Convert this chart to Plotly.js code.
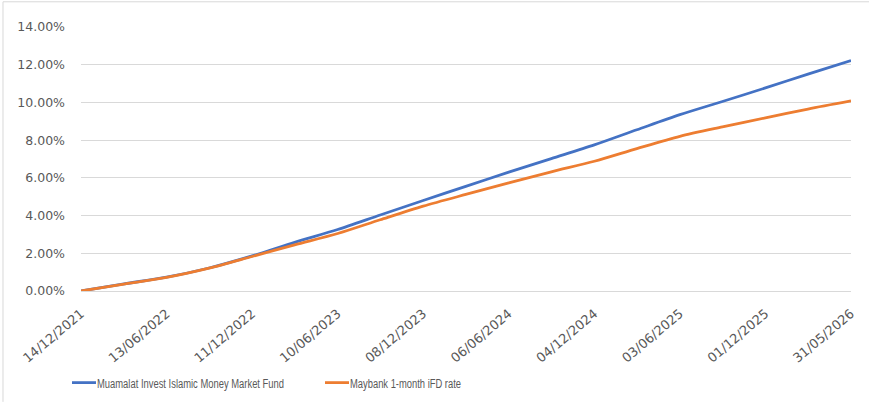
<!DOCTYPE html>
<html>
<head>
<meta charset="utf-8">
<script src="https://cdn.plot.ly/plotly-3.0.1.min.js"></script>
<style>
html,body{margin:0;padding:0;background:#fff;}
#chart{width:869px;height:402px;}
</style>
</head>
<body>
<div id="chart"></div>
<script>
// Dates of the readings (every ~90 days)
const dates = ['2021-12-14','2022-03-15','2022-06-13','2022-09-11','2022-12-11','2023-03-11','2023-06-10','2023-09-08','2023-12-08','2024-03-07','2024-06-06','2024-09-04','2024-12-04','2025-03-04','2025-06-03','2025-09-01','2025-12-01','2026-03-01','2026-05-31'];
// Cumulative return, percent
const fundReturn = [0, 0.38, 0.73, 1.22, 1.86, 2.58, 3.26, 4.03, 4.80, 5.55, 6.30, 7.02, 7.75, 8.55, 9.35, 10.05, 10.77, 11.50, 12.22];
const ifdReturn  = [0, 0.37, 0.72, 1.21, 1.83, 2.45, 3.05, 3.78, 4.50, 5.12, 5.73, 6.32, 6.88, 7.55, 8.20, 8.70, 9.18, 9.65, 10.08];
const seriesNames = ['Muamalat Invest Islamic Money Market Fund', 'Maybank 1-month iFD rate'];
// Axis ticks
const tickDates  = ['2021-12-14','2022-06-13','2022-12-11','2023-06-10','2023-12-08','2024-06-06','2024-12-04','2025-06-03','2025-12-01','2026-05-31'];
const tickLabels = ['14/12/2021','13/06/2022','11/12/2022','10/06/2023','08/12/2023','06/06/2024','04/12/2024','03/06/2025','01/12/2025','31/05/2026'];
const yTicks = [0, 2, 4, 6, 8, 10, 12, 14];
const yTickLabels = ['0.00%','2.00%','4.00%','6.00%','8.00%','10.00%','12.00%','14.00%'];

const grey = '#595959';
const traces = [
  {x: dates, y: fundReturn, name: seriesNames[0], type: 'scatter', mode: 'lines',
   line: {color: '#4472C4', width: 2.8, shape: 'spline', smoothing: 0.8}},
  {x: dates, y: ifdReturn, name: seriesNames[1], type: 'scatter', mode: 'lines',
   line: {color: '#ED7D31', width: 2.8, shape: 'spline', smoothing: 0.8}}
];
const layout = {
  width: 869, height: 402,
  margin: {l: 81, r: 18, t: 27, b: 110.5, pad: 0, autoexpand: false},
  paper_bgcolor: '#fff', plot_bgcolor: '#fff',
  showlegend: true,
  hovermode: false,
  xaxis: {
    type: 'date',
    range: [tickDates[0], tickDates[tickDates.length - 1]],
    tickmode: 'array', tickvals: tickDates, ticktext: tickLabels,
    tickangle: -40,
    ticklabelstandoff: 9,
    showgrid: false, zeroline: false,
    showline: true, linecolor: '#d9d9d9', linewidth: 1,
    ticks: '', ticklen: 0,
    tickfont: {family: 'DejaVu Sans', size: 13, color: grey},
    automargin: false
  },
  yaxis: {
    range: [0, 14],
    tickmode: 'array', tickvals: yTicks, ticktext: yTickLabels,
    showgrid: true, gridcolor: '#d9d9d9', gridwidth: 1,
    zeroline: false, showline: false, ticks: '',
    ticklabelstandoff: 15,
    tickfont: {family: 'DejaVu Sans', size: 12.5, color: grey},
    automargin: false
  },
  legend: {
    orientation: 'h',
    xref: 'container', yref: 'container',
    x: 67 / 869, xanchor: 'left',
    y: 19 / 402, yanchor: 'middle',
    font: {family: 'Liberation Sans', size: 12.5, color: grey},
    entrywidth: 208,
    bgcolor: 'rgba(0,0,0,0)'
  },
  shapes: [
    {type: 'line', xref: 'paper', yref: 'paper', x0: -0.1013, x1: 1.03, y0: 1.0955, y1: 1.0955, line: {color: '#d9d9d9', width: 1}},
    {type: 'line', xref: 'paper', yref: 'paper', x0: -0.1013, x1: -0.1013, y0: -0.42, y1: 1.0955, line: {color: '#d9d9d9', width: 1}}
  ]
};
Plotly.newPlot('chart', traces, layout, {displayModeBar: false, staticPlot: true}).then(function (gd) {
  // Excel legend: shorter line sample and condensed text
  const widths = [187, 111];
  gd.querySelectorAll('.legend .legendlines path').forEach(function (p) {
    p.setAttribute('d', 'M5,0h24');
  });
  gd.querySelectorAll('.legend .legendtext').forEach(function (t, i) {
    t.setAttribute('x', 30);
    if (widths[i]) {
      t.setAttribute('textLength', widths[i]);
      t.setAttribute('lengthAdjust', 'spacingAndGlyphs');
    }
  });
});
</script>
</body>
</html>
